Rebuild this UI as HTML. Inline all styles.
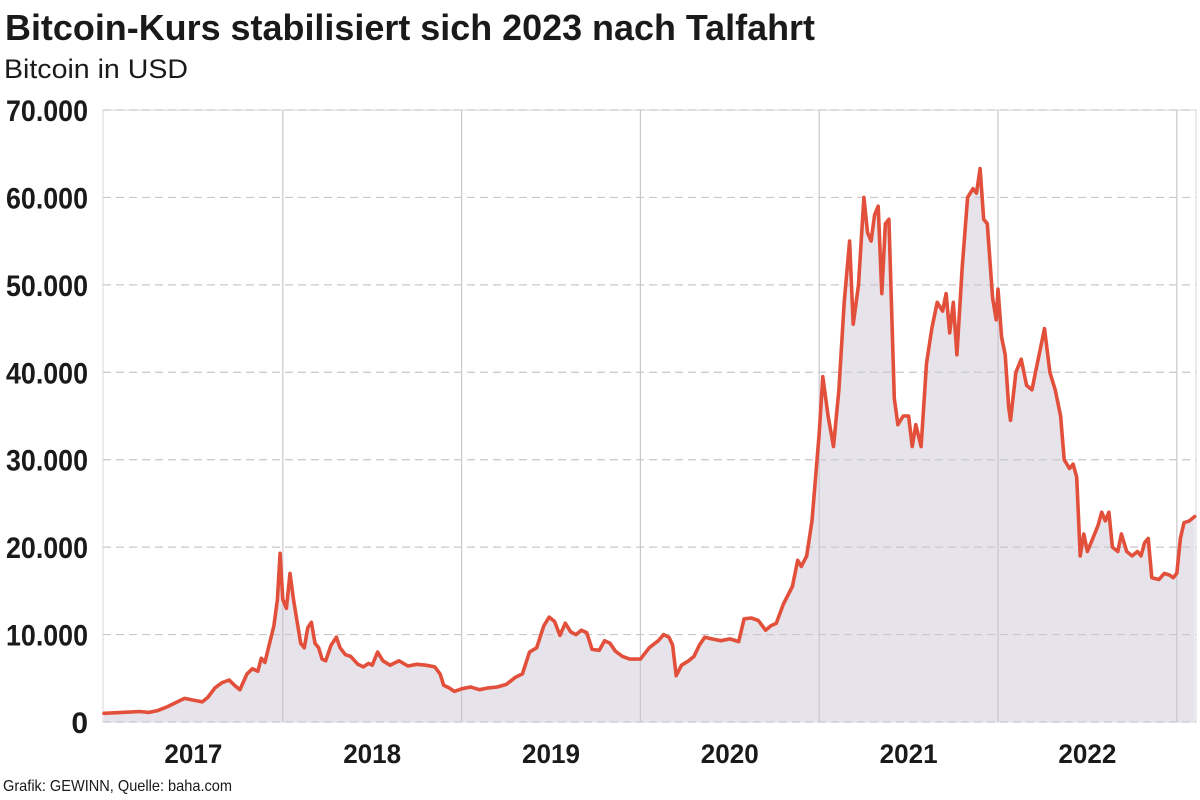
<!DOCTYPE html>
<html><head><meta charset="utf-8"><style>
html,body{margin:0;padding:0;background:#fff;}
svg{display:block;font-family:"Liberation Sans Narrow","Liberation Sans",sans-serif;}
</style></head><body>
<svg id="chart" width="1200" height="800" viewBox="0 0 1200 800">
<text x="5" y="40" font-size="36" font-weight="bold" fill="#1a1a1a" textLength="810" lengthAdjust="spacingAndGlyphs">Bitcoin-Kurs stabilisiert sich 2023 nach Talfahrt</text>
<text x="4" y="78" font-size="27" fill="#1a1a1a" textLength="184" lengthAdjust="spacingAndGlyphs">Bitcoin in USD</text>
<g id="grid"></g>
<g id="plot"></g>
<g id="yaxis"></g>
<g id="xaxis"></g>
<text x="3" y="791" font-size="16" fill="#1a1a1a" textLength="229" lengthAdjust="spacingAndGlyphs">Grafik: GEWINN, Quelle: baha.com</text>
</svg>
<script>
const yTicks=[0,10000,20000,30000,40000,50000,60000,70000];
const yTickLabels=["0","10.000","20.000","30.000","40.000","50.000","60.000","70.000"];
const years=[2017,2018,2019,2020,2021,2022];
const times=[2017.0,2017.1,2017.2,2017.25,2017.3,2017.35,2017.4,2017.45,2017.5,2017.55,2017.58,2017.62,2017.66,2017.7,2017.73,2017.76,2017.8,2017.83,2017.86,2017.88,2017.9,2017.92,2017.95,2017.97,2017.985,2018.0,2018.02,2018.04,2018.06,2018.08,2018.1,2018.12,2018.14,2018.16,2018.18,2018.2,2018.22,2018.24,2018.27,2018.3,2018.32,2018.35,2018.38,2018.42,2018.45,2018.48,2018.5,2018.53,2018.56,2018.6,2018.65,2018.7,2018.75,2018.8,2018.85,2018.88,2018.9,2018.93,2018.96,2019.0,2019.05,2019.1,2019.15,2019.2,2019.25,2019.3,2019.34,2019.38,2019.42,2019.46,2019.49,2019.52,2019.55,2019.58,2019.61,2019.64,2019.67,2019.7,2019.73,2019.77,2019.8,2019.83,2019.86,2019.9,2019.94,2020.0,2020.05,2020.1,2020.13,2020.16,2020.18,2020.2,2020.23,2020.27,2020.3,2020.33,2020.36,2020.4,2020.45,2020.5,2020.55,2020.58,2020.62,2020.66,2020.7,2020.73,2020.76,2020.8,2020.85,2020.88,2020.9,2020.93,2020.96,2020.98,2021.0,2021.02,2021.05,2021.08,2021.11,2021.14,2021.17,2021.19,2021.22,2021.25,2021.27,2021.29,2021.31,2021.33,2021.35,2021.37,2021.39,2021.42,2021.44,2021.47,2021.5,2021.52,2021.54,2021.57,2021.6,2021.63,2021.66,2021.69,2021.71,2021.73,2021.75,2021.77,2021.8,2021.83,2021.86,2021.88,2021.9,2021.92,2021.94,2021.97,2021.99,2022.0,2022.02,2022.04,2022.06,2022.07,2022.1,2022.13,2022.16,2022.19,2022.21,2022.24,2022.26,2022.29,2022.32,2022.35,2022.37,2022.4,2022.42,2022.44,2022.46,2022.48,2022.5,2022.53,2022.56,2022.58,2022.6,2022.62,2022.64,2022.67,2022.69,2022.72,2022.75,2022.78,2022.8,2022.82,2022.84,2022.86,2022.9,2022.93,2022.96,2022.98,2023.0,2023.02,2023.04,2023.07,2023.1];
const prices=[1000,1100,1200,1100,1300,1700,2200,2700,2500,2300,2800,3900,4500,4800,4200,3700,5500,6100,5800,7300,6800,8500,11000,14000,19300,14000,13000,17000,14000,11500,9000,8500,10800,11400,9000,8500,7200,7000,8800,9700,8500,7700,7500,6600,6300,6700,6500,8000,7000,6500,7000,6400,6600,6500,6300,5500,4200,3900,3500,3800,4000,3700,3900,4000,4300,5100,5500,8000,8500,11000,12000,11500,9900,11300,10300,10000,10500,10200,8300,8200,9300,9000,8100,7500,7200,7200,8500,9300,10000,9700,8800,5300,6500,7000,7500,8800,9700,9500,9300,9500,9200,11800,11900,11600,10500,11000,11300,13500,15500,18500,17800,19000,23000,28000,33000,39500,35000,31500,38000,48000,55000,45500,50000,60000,56000,55000,58000,59000,49000,57000,57500,37000,34000,35000,35000,31500,34000,31500,41000,45000,48000,47000,49000,44500,48000,42000,52000,60000,61000,60500,63300,57500,57000,48500,46000,49500,44000,42000,36000,34500,40000,41500,38500,38000,40000,43000,45000,40000,38000,35000,30000,29000,29500,28000,19000,21500,19500,21000,22500,24000,23000,24000,20000,19500,21500,19500,19000,19500,19000,20500,21000,16500,16300,17000,16800,16500,17000,21000,22800,23000,23500];

const NS="http://www.w3.org/2000/svg";
const X0=103,X1=1196,Y0=722,Y1=110;
const xs=t=>104+(t-2017)*178.8;
const ys=v=>Y0-(v/70000)*(Y0-Y1);
function mk(tag,attrs,parent){const e=document.createElementNS(NS,tag);for(const k in attrs)e.setAttribute(k,attrs[k]);parent.appendChild(e);return e;}
const grid=document.getElementById('grid'),plot=document.getElementById('plot'),ya=document.getElementById('yaxis'),xa=document.getElementById('xaxis');
mk('rect',{x:X0,y:Y1,width:X1-X0,height:Y0-Y1,fill:"none",stroke:"#d8d6dc","stroke-width":1},grid);
// area
let d="M"+xs(times[0])+","+Y0;
times.forEach((t,i)=>{d+=" L"+xs(t).toFixed(1)+","+ys(prices[i]).toFixed(1);});
d+=" L"+xs(times[times.length-1]).toFixed(1)+","+Y0+" Z";
const area=mk('path',{d:d,fill:"#e6e4ea"},plot);


// vertical gridlines
for(let i=1;i<years.length+1;i++){
  const l=mk('line',{x1:xs(years[0]+i),x2:xs(years[0]+i),y1:Y1,y2:Y0,stroke:"#c9c7cd","stroke-width":1.2},plot);
  
  
}
// horizontal gridlines
yTicks.forEach((v,i)=>{
  const l=mk('line',{x1:X0,x2:X1,y1:ys(v),y2:ys(v),stroke:"#c9c7cd","stroke-width":1.2,"stroke-dasharray":"8,5"},plot);
  
  
  const tx=mk('text',{x:88,y:ys(v)+11,"text-anchor":"end","font-size":30,"font-weight":"bold",fill:"#1a1a1a"},ya);
  if(i>0){tx.setAttribute('textLength',82);tx.setAttribute('lengthAdjust','spacingAndGlyphs');}
  tx.textContent=yTickLabels[i];
  
  
});
// line
let ld="";
times.forEach((t,i)=>{ld+=(i?" L":"M")+xs(t).toFixed(1)+","+ys(prices[i]).toFixed(1);});
const line=mk('path',{d:ld,fill:"none",stroke:"#e2503b","stroke-width":3.6,"stroke-linejoin":"round","stroke-linecap":"round"},plot);


years.forEach(y=>{
  const tx=mk('text',{x:xs(y+0.5),y:763,"text-anchor":"middle","font-size":27,"font-weight":"bold",fill:"#1a1a1a",textLength:58,lengthAdjust:"spacingAndGlyphs"},xa);
  tx.textContent=String(y);
  
  
});
</script>
</body></html>
